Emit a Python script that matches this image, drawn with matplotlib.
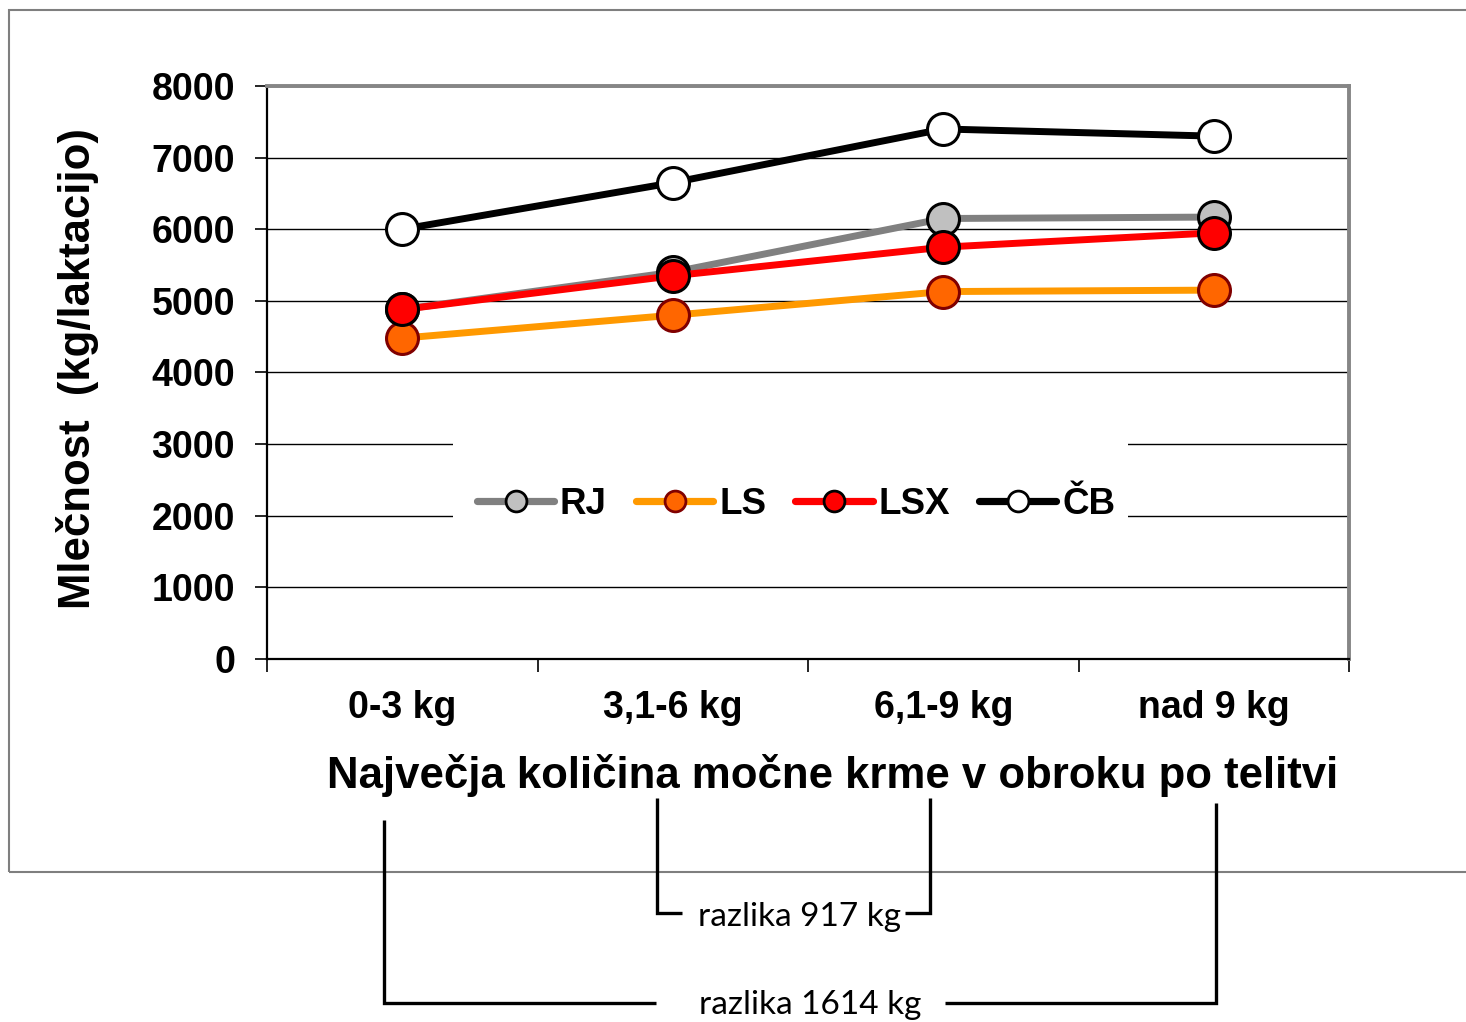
import matplotlib
matplotlib.use("Agg")
import matplotlib.pyplot as plt
from matplotlib.lines import Line2D
from matplotlib.patches import Rectangle

categories = ["0-3 kg", "3,1-6 kg", "6,1-9 kg", "nad 9 kg"]
series_names = ["RJ", "LS", "LSX", "ČB"]
rj = [4880, 5400, 6150, 6170]
ls = [4480, 4800, 5130, 5150]
lsx = [4880, 5350, 5750, 5950]
cb = [6000, 6650, 7400, 7300]
yticks = [0, 1000, 2000, 3000, 4000, 5000, 6000, 7000, 8000]
xlabel = "Največja količina močne krme v obroku po telitvi"
ylabel = "Mlečnost  (kg/laktacijo)"
note1 = "razlika 917 kg"
note2 = "razlika 1614 kg"

W, H = 1466, 1022
fig = plt.figure(figsize=(W / 100, H / 100), dpi=100)
fig.patch.set_facecolor("white")

def fx(px):
    return px / W

def fy(py):
    return 1 - py / H

# outer chart border
fig.add_artist(Rectangle((fx(9), fy(872)), fx(1480) - fx(9), fy(10) - fy(872),
                         transform=fig.transFigure, fill=False, edgecolor="#7f7f7f", lw=1.5))

ax = fig.add_axes([fx(267), fy(659), fx(1349) - fx(267), fy(86) - fy(659)])
x = list(range(len(categories)))

styles = [
    (rj, "#808080", "#c0c0c0", "black"),
    (ls, "#ff9900", "#ff6600", "#800000"),
    (lsx, "#ff0000", "#ff0000", "black"),
    (cb, "black", "white", "black"),
]
handles = []
for (vals, lc, mfc, mec), name in zip(styles, series_names):
    ax.plot(x, vals, color=lc, lw=5.0, marker="o", ms=23, mfc=mfc, mec=mec, mew=2.2,
            zorder=3, solid_capstyle="round")
    handles.append(Line2D([0], [0], color=lc, lw=5.2, marker="o", ms=15, mfc=mfc,
                          mec=mec, mew=2.0, solid_capstyle="round"))

ax.set_xlim(-0.5, 3.5)
ax.set_ylim(0, 8000)
ax.set_yticks(yticks)
ax.set_yticklabels([str(v) for v in yticks], fontsize=27, fontweight="bold",
                   family="Liberation Sans")
ax.set_xticks(x)
ax.set_xticklabels(categories, fontsize=27, fontweight="bold", family="Liberation Sans")
ax.set_xticks([-0.5, 0.5, 1.5, 2.5, 3.5], minor=True)
ax.tick_params(axis="x", which="major", length=0, pad=22)
ax.tick_params(axis="x", which="minor", length=9, width=1.2, color="black", direction="out")
ax.tick_params(axis="y", length=9, width=1.2, color="black", direction="out", pad=14)

ax.set_axisbelow(True)
ax.yaxis.grid(True, color="black", lw=1.0)
ax.xaxis.grid(False)

for s in ["top", "right"]:
    ax.spines[s].set_color("#868686")
    ax.spines[s].set_linewidth(2.8)
ax.spines["left"].set_color("black")
ax.spines["left"].set_linewidth(1.6)
ax.spines["bottom"].set_color("black")
ax.spines["bottom"].set_linewidth(1.6)

# white legend area interrupting gridlines
ax.add_patch(Rectangle((0.172, 0.22), 0.796 - 0.172, 0.18, transform=ax.transAxes,
                       facecolor="white", edgecolor="none", zorder=1))
leg = ax.legend(handles, series_names, loc="center", bbox_to_anchor=(0.489, 0.269),
                ncol=4, frameon=False, handlelength=2.1, handletextpad=0.15,
                columnspacing=0.8, prop={"family": "Liberation Sans", "weight": "bold",
                                          "size": 26.5})
leg.set_zorder(5)

fig.text(fx(833), fy(775), xlabel, ha="center", va="center", fontsize=31.5,
         fontweight="bold", family="Liberation Sans")
fig.text(fx(78), fy(369), ylabel, ha="center", va="center", rotation=90, fontsize=31.5,
         fontweight="bold", family="Liberation Sans")

# brackets
lw_b = 2.4
def seg(xs, ys):
    fig.add_artist(Line2D([fx(v) for v in xs], [fy(v) for v in ys],
                          transform=fig.transFigure, color="black", lw=lw_b,
                          solid_capstyle="butt", solid_joinstyle="miter"))

seg([657, 657, 682], [798, 913, 913])
seg([905, 930, 930], [913, 913, 798])
seg([656, 384, 384], [1003, 1003, 820])
seg([945, 1216, 1216], [1003, 1003, 803])

fig.text(fx(800), fy(917), note1, ha="center", va="center", fontsize=24, family="Lato")
fig.text(fx(810), fy(1005), note2, ha="center", va="center", fontsize=24, family="Lato")

fig.savefig("out.png", dpi=100)
